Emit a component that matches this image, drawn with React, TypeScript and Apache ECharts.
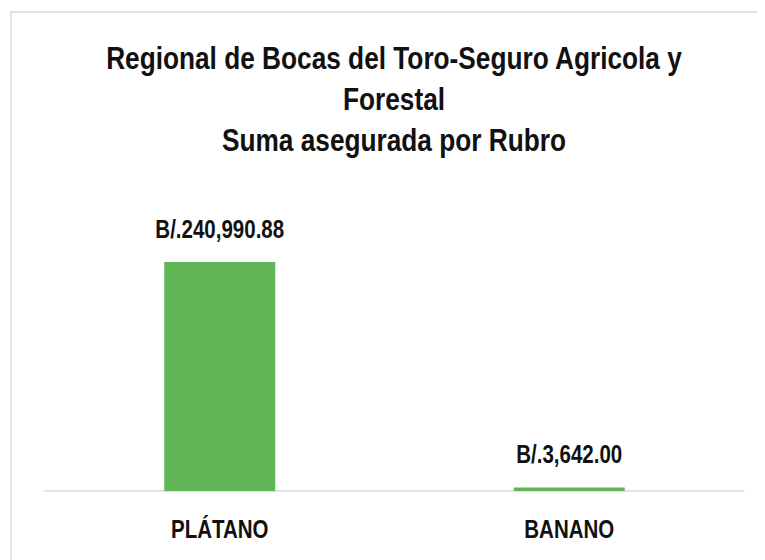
import React, { useEffect, useRef } from "react";
import * as echarts from "echarts";

const titleLines = [
  "Regional de Bocas del Toro-Seguro Agricola y",
  "Forestal",
  "Suma asegurada por Rubro",
];
const categories = ["PLÁTANO", "BANANO"];
const values = [240990.88, 3642.0];
const valueLabels = ["B/.240,990.88", "B/.3,642.00"];

const FONT = "'Liberation Sans', Arial, sans-serif";
const NARROW = 0.82;

export default function App() {
  const ref = useRef<HTMLDivElement>(null);
  useEffect(() => {
    if (!ref.current) return;
    const chart = echarts.init(ref.current, undefined, { renderer: "svg" });
    chart.setOption({
      animation: false,
      backgroundColor: "#ffffff",
      grid: { left: 37, right: 21, top: 198, bottom: 69 },
      xAxis: {
        type: "category",
        data: categories,
        axisLine: { show: true, lineStyle: { color: "#d9d9d9", width: 1.5 } },
        axisTick: { show: false },
        axisLabel: { show: false },
      },
      yAxis: {
        type: "value",
        min: 0,
        max: 300000,
        show: false,
        splitLine: { show: false },
      },
      series: [
        {
          type: "bar",
          data: values,
          barWidth: 111,
          itemStyle: { color: "#60b656" },
          label: { show: false },
        },
      ],
    });

    const textStyle = (text: string, size: number, extra: any = {}) => ({
      text,
      x: 0,
      y: 0,
      align: "center",
      verticalAlign: "middle",
      fill: "#111111",
      fontFamily: FONT,
      fontWeight: "bold",
      fontSize: size,
      ...extra,
    });

    const graphics: any[] = [
      {
        type: "rect",
        id: "frame",
        shape: { x: 3, y: 4, width: 800, height: 600 },
        style: { fill: "none", stroke: "#d9d9d9", lineWidth: 1.5 },
        silent: true,
        z: -1,
      },
      {
        type: "text",
        id: "title",
        x: 386,
        y: 30,
        scaleX: NARROW,
        style: textStyle(titleLines.join("\n"), 32, {
          verticalAlign: "top",
          lineHeight: 41,
        }),
      },
    ];

    categories.forEach((c, i) => {
      const top = chart.convertToPixel({ seriesIndex: 0 }, [i, values[i]]) as number[];
      const base = chart.convertToPixel({ seriesIndex: 0 }, [i, 0]) as number[];
      graphics.push({
        type: "text",
        id: "val" + i,
        x: top[0],
        y: top[1] - 33,
        scaleX: NARROW,
        style: textStyle(valueLabels[i], 25),
      });
      graphics.push({
        type: "text",
        id: "cat" + i,
        x: base[0],
        y: base[1] + 38,
        scaleX: NARROW,
        style: textStyle(c, 25),
      });
    });

    chart.setOption({ graphic: graphics });
    return () => chart.dispose();
  }, []);
  return <div ref={ref} style={{ width: 757, height: 552 }} />;
}
